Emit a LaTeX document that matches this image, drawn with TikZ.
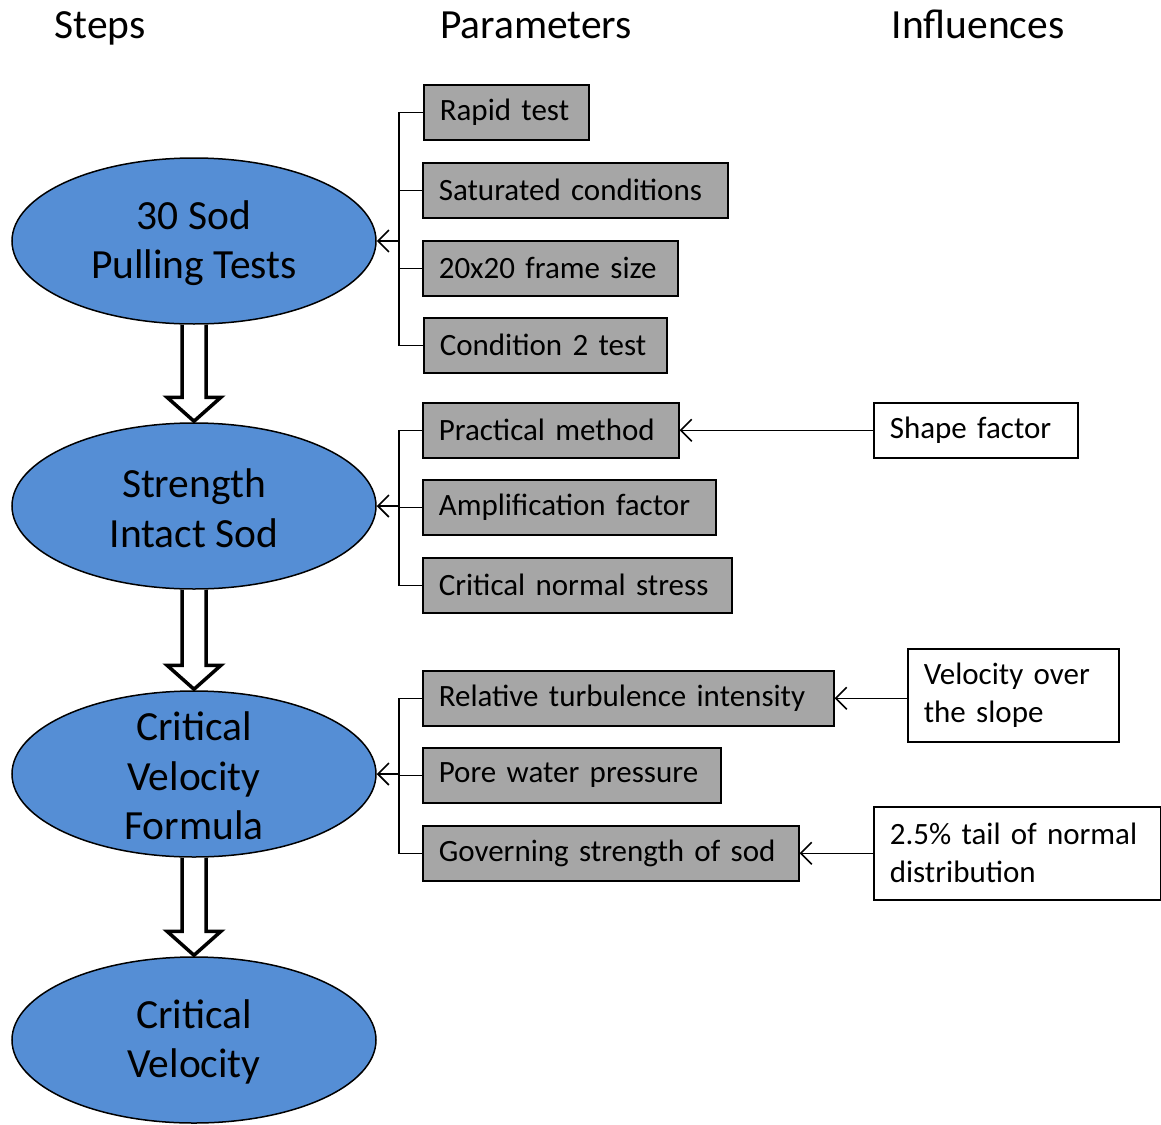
\documentclass[tikz,border=0pt]{standalone}
\usepackage{fontspec}
\setmainfont{Carlito}
\usetikzlibrary{shapes.geometric,arrows.meta,calc}
\definecolor{stepblue}{HTML}{558ED5}
\definecolor{boxgray}{HTML}{A6A6A6}
\begin{document}
\begin{tikzpicture}[x=1pt,y=-1pt,
  stepnode/.style={ellipse, draw=black, line width=1.5pt, fill=stepblue, minimum width=364, minimum height=166, inner sep=0},
  steptext/.style={font=\fontsize{41.5}{49.5}\selectfont, align=center, inner sep=0},
  header/.style={font=\fontsize{41.5}{48}\selectfont, inner sep=0, anchor=base},
  gbox/.style={draw=black, line width=1.6pt, fill=boxgray, minimum height=55, inner xsep=16, inner ysep=0, anchor=north west, font=\fontsize{31}{37}\selectfont, align=left, text width=#1},
  wbox/.style={draw=black, line width=1.6pt, fill=white, inner xsep=16, inner ysep=0, anchor=north west, font=\fontsize{31}{38}\selectfont, align=left, text width=#1},
  conn/.style={line width=1.6pt},
  arr/.style={line width=1.6pt, -{Straight Barb[length=11pt,width=22pt,line width=1.6pt]}},
  barrow/.style={line width=3.5pt, draw=black, fill=white, line join=miter},
]
\useasboundingbox (0,0) rectangle (1161,1124);

% headers
\node[header] (h1) at (100,38) {Steps};
\node[header] (h2) at (536,38) {Parameters};
\node[header] (h3) at (978,38) {Influences};

% steps
\node[stepnode] (e1) at (194,241) {};
\node[steptext] (e1t) at (194,243) {30 Sod\\Pulling Tests};
\node[stepnode] (e2) at (194,506) {};
\node[steptext] (e2t) at (194,508) {Strength\\Intact Sod};
\node[stepnode] (e3) at (194,774) {};
\node[steptext] (e3t) at (194,776) {Critical\\Velocity\\Formula};
\node[stepnode] (e4) at (194,1040) {};
\node[steptext] (e4t) at (194,1042) {Critical\\Velocity};

% block arrows
\foreach \a/\b in {e1/e2,e2/e3,e3/e4}{
  \draw[barrow] let \p1=(\a.south), \p2=(\b.north) in
    (\x1-12pt,\y1) -- (\x1-12pt,\y2+25pt) -- (\x1-27pt,\y2+25pt) -- (\x1,\y2+1pt)
    -- (\x1+27pt,\y2+25pt) -- (\x1+12pt,\y2+25pt) -- (\x1+12pt,\y1);
}

% parameters
\node[gbox=133] (g1) at (423,84) {Rapid test};
\node[gbox=273] (g2) at (422,162) {Saturated conditions};
\node[gbox=223] (g3) at (422,240) {20x20 frame size};
\node[gbox=211] (g4) at (423,317) {Condition 2 test};
\node[gbox=224] (g5) at (422,402) {Practical method};
\node[gbox=261] (g6) at (422,479) {Amplification factor};
\node[gbox=277] (g7) at (422,557) {Critical normal stress};
\node[gbox=379] (g8) at (422,670) {Relative turbulence intensity};
\node[gbox=266] (g9) at (422,747) {Pore water pressure};
\node[gbox=344] (g10) at (422,825) {Governing strength of sod};

% influences
\node[wbox=172, minimum height=55] (sf) at (873,402) {Shape factor};
\node[wbox=179, minimum height=93] (vo) at (907,648) {Velocity over\\the slope};
\node[wbox=255, minimum height=93] (nd) at (873,806) {2.5\% tail of normal\\distribution};

% brackets
\coordinate (j1) at (399,241);
\coordinate (j2) at (399,506);
\coordinate (j3) at (399,774);
\draw[conn] (g1.west) -- (j1 |- g1.west) -- (j1 |- g4.west) -- (g4.west);
\draw[conn] (g2.west) -- (j1 |- g2.west);
\draw[conn] (g3.west) -- (j1 |- g3.west);
\draw[arr] (j1) -- (e1.east);
\draw[conn] (g5.west) -- (j2 |- g5.west) -- (j2 |- g7.west) -- (g7.west);
\draw[conn] (g6.west) -- (j2 |- g6.west);
\draw[arr] (j2) -- (e2.east);
\draw[conn] (g8.west) -- (j3 |- g8.west) -- (j3 |- g10.west) -- (g10.west);
\draw[conn] (g9.west) -- (j3 |- g9.west);
\draw[arr] (j3) -- (e3.east);

% influence arrows
\draw[arr] (sf.west) -- (g5.east);
\draw[arr] (vo.west |- g8.east) -- (g8.east);
\draw[arr] (nd.west |- g10.east) -- (g10.east);
\end{tikzpicture}
\end{document}
